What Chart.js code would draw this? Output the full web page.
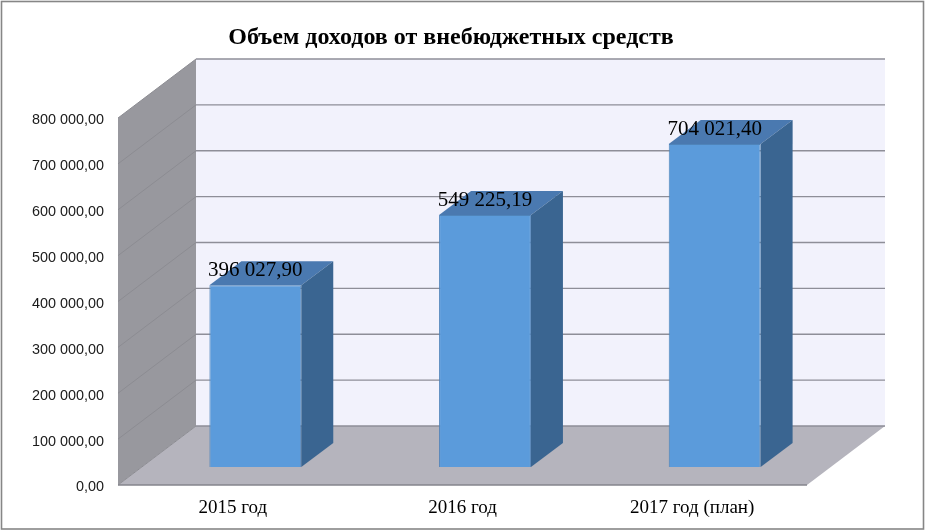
<!DOCTYPE html>
<html>
<head>
<meta charset="utf-8">
<style>
  html, body { margin: 0; padding: 0; background: #fff; }
  canvas { display: block; }
</style>
<script src="https://cdn.jsdelivr.net/npm/chart.js@4"></script>
</head>
<body>
<canvas id="chart" width="925" height="531"></canvas>
<script>
const titleText = 'Объем доходов от внебюджетных средств';
const categories = ['2015 год', '2016 год', '2017 год (план)'];
const incomeValues = [396027.90, 549225.19, 704021.40];
const valueLabels = ['396 027,90', '549 225,19', '704 021,40'];
const tickLabels = ['0,00', '100 000,00', '200 000,00', '300 000,00', '400 000,00',
  '500 000,00', '600 000,00', '700 000,00', '800 000,00'];

// how far the back wall and the bars sit from the front plane
const wallDx = 78, wallDy = -59;
const barDx = 22.5, barDy = -18;
const sideDx = 32, sideDy = -24;

function poly(ctx, pts, fill, stroke) {
  ctx.beginPath();
  pts.forEach(function(p, i) {
    if (i === 0) ctx.moveTo(p[0], p[1]); else ctx.lineTo(p[0], p[1]);
  });
  ctx.closePath();
  ctx.fillStyle = fill;
  ctx.fill();
  if (stroke) {
    ctx.strokeStyle = stroke;
    ctx.lineWidth = 1;
    ctx.stroke();
  }
}

function line(ctx, x1, y1, x2, y2, color, width) {
  ctx.beginPath();
  ctx.moveTo(x1, y1);
  ctx.lineTo(x2, y2);
  ctx.strokeStyle = color;
  ctx.lineWidth = width;
  ctx.stroke();
}

const box3d = {
  id: 'box3d',
  beforeDatasetsDraw: function(chart) {
    const ctx = chart.ctx, a = chart.chartArea, y = chart.scales.y;
    const t = a.top, b = a.bottom, l = a.left, r = a.right;

    // outer frame
    ctx.strokeStyle = '#868686';
    ctx.lineWidth = 1.6;
    ctx.strokeRect(1.5, 1.5, 922, 527.5);

    // title
    ctx.fillStyle = '#000';
    ctx.font = 'bold 24px "Liberation Serif"';
    ctx.textAlign = 'center';
    ctx.textBaseline = 'alphabetic';
    ctx.fillText(titleText, 451, 44);

    // walls and floor
    poly(ctx, [[l + wallDx, t + wallDy], [r + wallDx, t + wallDy], [r + wallDx, b + wallDy], [l + wallDx, b + wallDy]], '#F2F2FC');
    poly(ctx, [[l, t], [l + wallDx, t + wallDy], [l + wallDx, b + wallDy], [l, b]], '#98989E');
    poly(ctx, [[l, b], [l + wallDx, b + wallDy], [r + wallDx, b + wallDy], [r, b]], '#B5B4BD');

    y.ticks.forEach(function(tick) {
      const py = y.getPixelForValue(tick.value);
      line(ctx, l, py, l + wallDx, py + wallDy, '#8C8C92', 1);
      line(ctx, l + wallDx, py + wallDy, r + wallDx, py + wallDy, '#8E8E98', 1.4);
    });
    line(ctx, l, b, r, b, '#85858C', 1.4);

    // everything the datasets draw goes on the floor, not on the front plane
    ctx.save();
    ctx.translate(barDx, barDy);
    chart.getDatasetMeta(0).data.forEach(function(bar) {
      const x1 = bar.x - bar.width / 2, x2 = bar.x + bar.width / 2;
      poly(ctx, [[x1, bar.y], [x1 + sideDx, bar.y + sideDy], [x2 + sideDx, bar.y + sideDy], [x2, bar.y]], '#4A79B0');
      poly(ctx, [[x2, bar.y], [x2 + sideDx, bar.y + sideDy], [x2 + sideDx, bar.base + sideDy], [x2, bar.base]], '#3A6591');
    });
  },
  afterDatasetsDraw: function(chart) {
    const ctx = chart.ctx;
    ctx.fillStyle = '#000';
    ctx.font = '21px "Liberation Serif"';
    ctx.textAlign = 'center';
    ctx.textBaseline = 'alphabetic';
    chart.getDatasetMeta(0).data.forEach(function(bar, i) {
      ctx.fillText(valueLabels[i], bar.x, bar.y - 9);
    });
    ctx.restore();
  }
};

new Chart(document.getElementById('chart').getContext('2d'), {
  type: 'bar',
  data: {
    labels: categories,
    datasets: [{
      data: incomeValues,
      backgroundColor: '#5B9BDB',
      borderColor: '#4F84BA',
      borderWidth: 1,
      barPercentage: 0.4,
      categoryPercentage: 1
    }]
  },
  options: {
    responsive: false,
    animation: false,
    devicePixelRatio: 1,
    layout: { padding: { top: 118, right: 118, left: 0, bottom: 0 } },
    plugins: { legend: { display: false }, tooltip: { enabled: false } },
    scales: {
      x: {
        afterFit: function(scale) { scale.height = 46; },
        grid: { display: false },
        border: { display: false },
        ticks: {
          color: '#000',
          padding: 4,
          maxRotation: 0,
          font: { family: 'Liberation Serif', size: 19 }
        }
      },
      y: {
        min: 0,
        max: 800000,
        afterFit: function(scale) { scale.width = 118; },
        grid: { display: false },
        border: { display: false },
        ticks: {
          stepSize: 100000,
          color: '#1a1a1a',
          padding: 6,
          labelOffset: 2.5,
          font: { family: 'Liberation Sans', size: 14.4 },
          callback: function(value, index) { return tickLabels[index]; }
        }
      }
    }
  },
  plugins: [box3d]
});
</script>
</body>
</html>
